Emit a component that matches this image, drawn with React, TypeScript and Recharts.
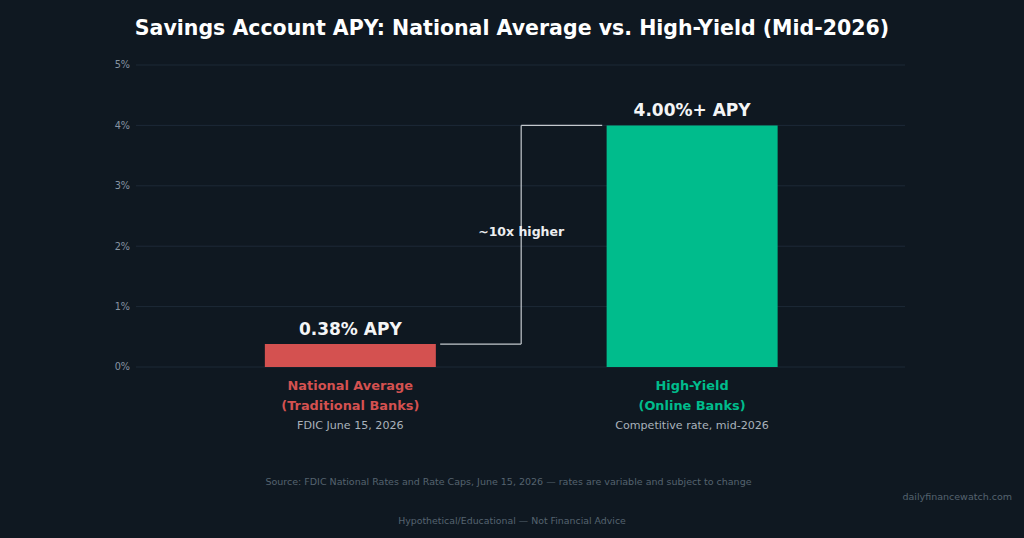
import React from 'react';
import {
  BarChart,
  Bar,
  XAxis,
  YAxis,
  CartesianGrid,
  Cell,
  LabelList,
  ReferenceLine,
  ReferenceDot,
} from 'recharts';

const categories = ['National Average', 'High-Yield'];
const categorySubs = ['(Traditional Banks)', '(Online Banks)'];
const categoryNotes = ['FDIC June 15, 2026', 'Competitive rate, mid-2026'];
const xPositions = [0, 1];
const apyValues = [0.38, 4.0];
const valueLabels = ['0.38% APY', '4.00%+ APY'];
const barColors = ['#d45150', '#00bc8c'];
const yTicks = [0, 1, 2, 3, 4, 5];
const xDomain = [-0.627, 1.623];

// bracket annotation (data units)
const bracketLowX = 0.263;
const bracketMidX = 0.5;
const bracketHighX = 0.737;
const bracketLabelY = 2.24;
const bracketLabel = '~10x higher';

const title = 'Savings Account APY: National Average vs. High-Yield (Mid-2026)';
const sourceNote =
  'Source: FDIC National Rates and Rate Caps, June 15, 2026 — rates are variable and subject to change';
const siteName = 'dailyfinancewatch.com';
const disclaimer = 'Hypothetical/Educational — Not Financial Advice';

const data = xPositions.map((x, i) => ({
  x,
  apy: apyValues[i],
  label: valueLabels[i],
}));

const FONT = "'DejaVu Sans', sans-serif";
const BG = '#0f1821';

const XTick = (props: any) => {
  const { x, y, payload } = props;
  const i = xPositions.indexOf(payload.value);
  if (i < 0) return null;
  return (
    <g>
      <text x={x} y={y + 23} textAnchor="middle" fontSize={12.9} fontWeight="bold" fill={barColors[i]} fontFamily={FONT}>
        {categories[i]}
      </text>
      <text x={x} y={y + 42.5} textAnchor="middle" fontSize={12.9} fontWeight="bold" fill={barColors[i]} fontFamily={FONT}>
        {categorySubs[i]}
      </text>
      <text x={x} y={y + 61.8} textAnchor="middle" fontSize={11.1} fill="#a9b2bb" fontFamily={FONT}>
        {categoryNotes[i]}
      </text>
    </g>
  );
};

const ValueLabel = (props: any) => {
  const { x, y, width, value } = props;
  return (
    <text
      x={Number(x) + Number(width) / 2}
      y={Number(y) - 9}
      textAnchor="middle"
      fontSize={17}
      fontWeight="bold"
      fill="#f4f5f6"
      fontFamily={FONT}
    >
      {value}
    </text>
  );
};

const bracketStroke = '#c3c8cd';

export default function App() {
  return (
    <div style={{ position: 'absolute', left: 0, top: 0, width: 1024, height: 538, background: BG, overflow: 'hidden' }}>
      <BarChart
        width={1024}
        height={538}
        data={data}
        margin={{ top: 65, right: 119, bottom: 111, left: 96 }}
        barCategoryGap="25%"
        style={{ fontFamily: FONT }}
      >
        <CartesianGrid vertical={false} stroke="#1d2937" strokeWidth={1} />
        <XAxis
          type="number"
          dataKey="x"
          domain={xDomain}
          ticks={xPositions}
          allowDataOverflow
          axisLine={false}
          tickLine={false}
          tickSize={0}
          tickMargin={0}
          interval={0}
          height={60}
          tick={<XTick />}
        />
        <YAxis
          domain={[0, 5]}
          ticks={yTicks}
          width={40}
          axisLine={false}
          tickLine={false}
          tickSize={4}
          tickMargin={2}
          tickFormatter={(v: number) => `${v}%`}
          tick={{ fontSize: 9.7, fill: '#8794a1', fontFamily: FONT }}
        />
        <Bar dataKey="apy" isAnimationActive={false}>
          {data.map((d, i) => (
            <Cell key={d.x} fill={barColors[i]} />
          ))}
          <LabelList dataKey="label" content={<ValueLabel />} />
        </Bar>
        <ReferenceLine
          segment={[{ x: bracketLowX, y: apyValues[0] }, { x: bracketMidX, y: apyValues[0] }]}
          stroke={bracketStroke}
          strokeWidth={1.2}
          ifOverflow="visible"
        />
        <ReferenceLine
          segment={[{ x: bracketMidX, y: apyValues[0] }, { x: bracketMidX, y: apyValues[1] }]}
          stroke={bracketStroke}
          strokeWidth={1.2}
          ifOverflow="visible"
        />
        <ReferenceLine
          segment={[{ x: bracketMidX, y: apyValues[1] }, { x: bracketHighX, y: apyValues[1] }]}
          stroke={bracketStroke}
          strokeWidth={1.2}
          ifOverflow="visible"
        />
        <ReferenceDot
          x={bracketMidX}
          y={bracketLabelY}
          r={0}
          fill="none"
          stroke="none"
          ifOverflow="visible"
          label={{ value: bracketLabel, position: 'center', fill: '#eceef0', fontSize: 12.5, fontWeight: 'bold', fontFamily: FONT }}
        />
      </BarChart>
      <svg width={1024} height={538} style={{ position: 'absolute', left: 0, top: 0, pointerEvents: 'none' }}>
        <text x={512} y={35} textAnchor="middle" fontSize={20.5} fontWeight="bold" fill="#ffffff" fontFamily={FONT}>
          {title}
        </text>
        <text x={508.5} y={484.5} textAnchor="middle" fontSize={9.5} fill="#55636f" fontFamily={FONT}>
          {sourceNote}
        </text>
        <text x={1012} y={499.5} textAnchor="end" fontSize={9.5} fill="#55636f" fontFamily={FONT}>
          {siteName}
        </text>
        <text x={512} y={523.5} textAnchor="middle" fontSize={9.4} fill="#55636f" fontFamily={FONT}>
          {disclaimer}
        </text>
      </svg>
    </div>
  );
}
